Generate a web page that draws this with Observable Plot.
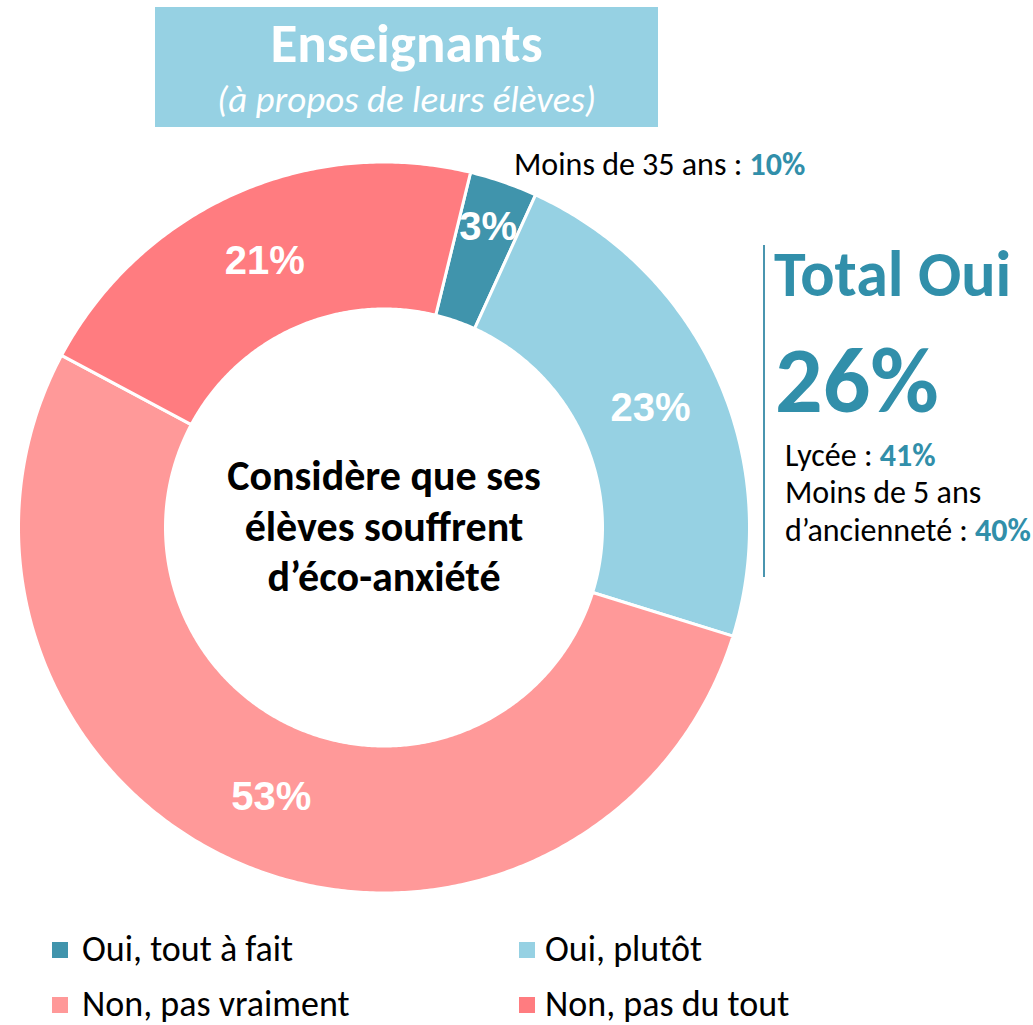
<!DOCTYPE html>
<html><head><meta charset="utf-8">
<script src="https://cdn.jsdelivr.net/npm/d3@7"></script>
<script src="https://cdn.jsdelivr.net/npm/@observablehq/plot@0.6"></script>
<style>
body{margin:0;background:#fff;}
#wrap{position:relative;width:1033px;height:1025px;overflow:hidden;font-family:Carlito,Calibri,Lato,sans-serif;color:#000;}
#wrap svg{position:absolute;left:0;top:0;}
.abs{position:absolute;white-space:nowrap;line-height:1;}
.teal{color:#318FAA;font-weight:bold;}
#titlebox{position:absolute;left:155px;top:7px;width:503px;height:120px;background:#96D1E3;}
.sw{position:absolute;width:16px;height:16px;}
</style></head><body><div id="wrap"></div>
<script>
const categories = ["Oui, tout à fait", "Oui, plutôt", "Non, pas vraiment", "Non, pas du tout"];
const values = [3, 23, 53, 21];
const colors = ["#4094AC", "#96D1E3", "#FF9999", "#FF7C80"];
const centerLines = ["Considère que ses", "élèves souffrent", "d’éco-anxiété"];
const titleText = "Enseignants";
const subtitleText = "(à propos de leurs élèves)";
const totalLabel = "Total Oui";
const totalValue = "26%";
const topNote = ["Moins de 35 ans : ", "10%"];
const sideNotes = [["Lycée : ", "41%"], ["Moins de 5 ans", ""], ["d’ancienneté : ", "40%"]];

const CX = 383.5, CY = 527, R = 365.5;
const R_IN = 218.5 / R;
const startDeg = 13.7;
const BASE = 0.85; // baseline offset (em) for line-height 1

const total = d3.sum(values);
let acc = startDeg * Math.PI / 180;
const slices = categories.map((c, i) => {
  const a0 = acc, a1 = acc + values[i] / total * 2 * Math.PI;
  acc = a1;
  return {cat: c, value: values[i], a0, a1};
});
const pts = [];
slices.forEach(s => {
  const n = Math.max(8, Math.ceil((s.a1 - s.a0) / (Math.PI / 360)));
  const ring = [];
  for (let k = 0; k <= n; k++) { const a = s.a0 + (s.a1 - s.a0) * k / n; ring.push([Math.sin(a), Math.cos(a)]); }
  for (let k = n; k >= 0; k--) { const a = s.a0 + (s.a1 - s.a0) * k / n; ring.push([R_IN * Math.sin(a), R_IN * Math.cos(a)]); }
  ring.push(ring[0]);
  ring.forEach(([x, y]) => pts.push({cat: s.cat, x, y}));
});
const labels = slices.map(s => {
  const m = (s.a0 + s.a1) / 2;
  const r = s.value < 5 ? 318 / R : 292 / R;
  return {x: r * Math.sin(m), y: r * Math.cos(m), text: s.value + "%"};
});

const plot = Plot.plot({
  width: 1033, height: 1025, margin: 0,
  x: {domain: [-1, 1], range: [CX - R, CX + R], axis: null},
  y: {domain: [-1, 1], range: [CY + R, CY - R], axis: null},
  color: {domain: categories, range: colors},
  marks: [
    Plot.line(pts, {x: "x", y: "y", z: "cat", fill: "cat", stroke: "white", strokeWidth: 3, curve: "linear"}),
    Plot.text(labels, {x: "x", y: "y", text: "text", fill: "white", fontSize: 40, fontWeight: "bold", fontFamily: "Liberation Sans, Arial, sans-serif"}),
    Plot.text([centerLines.join("\n")], {x: () => 0, y: () => 0, text: d => d, fontSize: 42, fontWeight: "bold", lineHeight: 1.2, dy: -3, fill: "black", fontFamily: "Carlito, Calibri, Lato, sans-serif"})
  ]
});
const wrap = document.getElementById("wrap");
wrap.appendChild(plot);

function addDiv(html, style, cls) {
  const d = document.createElement("div");
  d.className = cls || "abs";
  d.innerHTML = html;
  Object.assign(d.style, style);
  wrap.appendChild(d);
  return d;
}
function topAt(baseline, size, k) { return (baseline - (k || BASE) * size) + "px"; }
// title box
const tb = addDiv("", {}, "");
tb.id = "titlebox";
addDiv(titleText, {left: "155px", width: "503px", textAlign: "center", top: topAt(63, 55), fontSize: "55px", fontWeight: "bold", color: "white"});
addDiv(subtitleText, {left: "155px", width: "503px", textAlign: "center", top: topAt(112, 37), fontSize: "37px", fontStyle: "italic", color: "white"});
// top note
addDiv(topNote[0] + '<span class="teal">' + topNote[1] + '</span>', {left: "514px", top: topAt(176, 32), fontSize: "32px"});
// side panel
addDiv("", {left: "763px", top: "245px", width: "2px", height: "332px", background: "#4A95AF"}, "abs");
addDiv(totalLabel, {left: "774px", top: topAt(296, 64), fontSize: "64px", fontWeight: "bold", color: "#318FAA"});
addDiv(totalValue, {left: "775px", top: topAt(413, 94), fontSize: "94px", fontWeight: "bold", color: "#318FAA"});
sideNotes.forEach((n, i) => {
  addDiv(n[0] + (n[1] ? '<span class="teal">' + n[1] + '</span>' : ""), {left: "785px", top: topAt(467 + i * 37.5, 32), fontSize: "32px"});
});
// legend
const legPos = [[52, 942, 82], [519, 942, 545], [52, 997, 82], [519, 997, 545]];
categories.forEach((c, i) => {
  const [lx, ly, tx] = legPos[i];
  addDiv("", {left: lx + "px", top: ly + "px", background: colors[i]}, "sw");
  addDiv(c, {left: tx + "px", top: topAt(ly + 20, 36, 0.8), fontSize: "36px", lineHeight: "0.9"});
});
</script>
</body></html>
